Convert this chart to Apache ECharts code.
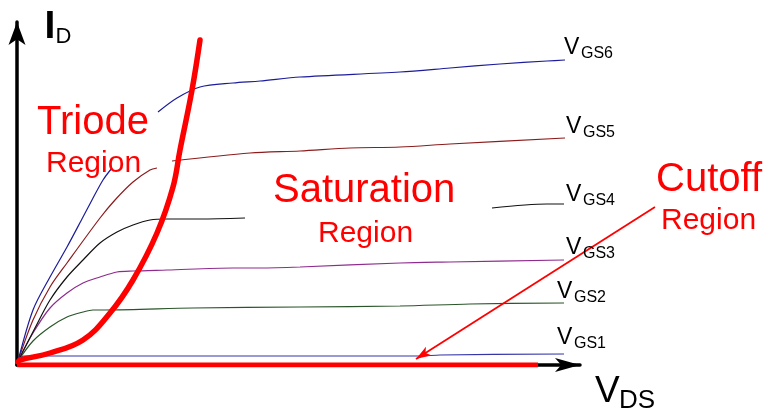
<!DOCTYPE html>
<html lang="en">
<head>
  <meta charset="UTF-8">
  <title>MOSFET regions</title>
  <script src="https://cdn.jsdelivr.net/npm/echarts@6/dist/echarts.min.js"></script>
  <style>
    html, body { margin: 0; padding: 0; background: #fff; }
  </style>
</head>
<body>
  <div id="app" style="width: 772px; height: 417px;"></div>
  <script>
    // output curves, one per gate voltage: [VDS, ID] in drawing units
    var vgs6 = [[1,4],[16,55],[33,88],[50,118],[66,148],[75,165],[86,185],[95,197],null,
      [141,253],[160,267],[183,278],[216,282],[243,284],[283,288],[383,293],[433,297],[483,301],[530,304],[548,305]]
    var vgs5 = [[1,4],[16,45],[33,78],[50,102],[83,147],[98,165],[116,183],[133,195],[140,197],null,
      [155,204],[233,212],[283,214],[333,217],[383,218],[433,221],[548,227]]
    var vgs4 = [[1,4],[18,37],[33,65],[50,88],[66,105],[83,122],[100,133],[116,140],[133,145],[150,146],[183,146],[228,147],null,
      [475,157],[530,161],[547,161]]
    var vgs3 = [[1,4],[16,32],[33,57],[50,72],[66,82],[83,88],[100,93],[116,94],[150,95],[216,97],[243,97],[283,98],[383,102],[433,103],[547,105]]
    var vgs2 = [[1,4],[16,24],[33,38],[50,48],[66,53],[76,55],[88,55],[176,57],[283,58],[383,59],[453,61],[547,62]]
    var vgs1 = [[1,4],[7,9],[403,9],[423,10],[547,11]]
    // triode / saturation boundary and cutoff line
    var triodeEdge = [[1,3],[3,5],[33,12],[66,25],[93,52],[116,85],[140,132],[156,178],[163,215],[175,275],[183,325]]
    var cutoffLine = [[0,0],[521,0]]
    var cutoffArrow = [[638,158],[399,6]]

    var curveNames = ['GS1', 'GS2', 'GS3', 'GS4', 'GS5', 'GS6']
    var curveData = [vgs1, vgs2, vgs3, vgs4, vgs5, vgs6]
    var curveColors = ['#3535a8', '#2a552a', '#8e2c8e', '#111111', '#8b1c1c', '#1c1c9a']

    var app = document.querySelector('#app')
    var mCharts = echarts.init(app)

    var font = '"Liberation Sans", Arial, sans-serif'

    function txt(x, y, text, size, color, weight) {
      return {
        type: 'text', x: x, y: y, z: 20,
        style: { text: text, fontSize: size, fontFamily: font, fontWeight: weight || 'normal', fill: color }
      }
    }

    // label with subscript, e.g. V + GS6
    function subLabel(x, capTop, main, sub, mainSize, subSize, dx, dy) {
      return [
        txt(x, capTop - 0.094 * mainSize, main, mainSize, '#000'),
        txt(x + dx, capTop + dy - 0.094 * subSize, sub, subSize, '#000')
      ]
    }

    var series = curveData.map(function (d, i) {
      return {
        name: 'V' + curveNames[i],
        type: 'line',
        data: d,
        showSymbol: false,
        smooth: 0.3,
        connectNulls: false,
        lineStyle: { width: 1.2, color: curveColors[i] },
        z: 3
      }
    })

    series.push({
      type: 'line',
      data: cutoffLine,
      showSymbol: false,
      lineStyle: { width: 5, color: '#ff0000', cap: 'butt' },
      z: 5
    })
    series.push({
      type: 'line',
      data: triodeEdge,
      showSymbol: false,
      smooth: 0.4,
      lineStyle: { width: 5.5, color: '#ff0000', cap: 'round' },
      z: 6
    })
    // the pointer runs past the plot's right edge, so it lives on a wider hidden grid
    series.push({
      type: 'line',
      xAxisIndex: 1,
      yAxisIndex: 1,
      data: [
        { value: cutoffArrow[0], symbol: 'none' },
        { value: cutoffArrow[1], symbol: 'arrow', symbolSize: [7.5, 15], symbolRotate: 122.5 }
      ],
      showSymbol: true,
      itemStyle: { color: '#ff0000' },
      lineStyle: { width: 1.8, color: '#ff0000' },
      z: 7
    })

    var labelTops = [328, 282, 238, 185, 117, 38]
    var labelLefts = [557, 557, 566, 566, 566, 564]

    var graphics = []
    curveNames.forEach(function (n, i) {
      graphics = graphics.concat(subLabel(labelLefts[i], labelTops[i], 'V', n, 23, 16, 17, 9))
    })
    graphics.push(txt(44.5, 11 - 0.094 * 39, 'I', 39, '#000', 'bold'))
    graphics.push(txt(55.5, 28 - 0.094 * 22, 'D', 22, '#000'))
    graphics = graphics.concat(subLabel(595, 377, 'V', 'DS', 37, 26, 24, 13))

    graphics.push(txt(37, 135 - 32.4, 'Triode', 40, '#ff0000'))
    graphics.push(txt(46, 173.5 - 24.3, 'Region', 30, '#ff0000'))
    graphics.push(txt(273, 203 - 32.4, 'Saturation', 40, '#ff0000'))
    graphics.push(txt(318, 243 - 24.3, 'Region', 30, '#ff0000'))
    graphics.push(txt(656, 192 - 32.4, 'Cutoff', 40, '#ff0000'))
    graphics.push(txt(661, 230 - 24.3, 'Region', 30, '#ff0000'))

    var hidden = {
      axisLine: { show: false }, axisTick: { show: false },
      axisLabel: { show: false }, splitLine: { show: false }
    }

    var option = {
      animation: false,
      backgroundColor: '#fff',
      grid: [
        { left: 17, right: 192, top: 22, bottom: 52, containLabel: false },
        { left: 17, right: 0, top: 22, bottom: 52, containLabel: false }
      ],
      xAxis: [
        {
          type: 'value', min: 0, max: 563,
          axisLine: { show: true, onZero: false, symbol: ['none', 'arrow'], symbolSize: [10.5, 25], lineStyle: { color: '#000', width: 3.5 } },
          axisTick: { show: false }, axisLabel: { show: false }, splitLine: { show: false }
        },
        Object.assign({ type: 'value', gridIndex: 1, min: 0, max: 755 }, hidden)
      ],
      yAxis: [
        {
          type: 'value', min: 0, max: 343,
          axisLine: { show: true, onZero: false, symbol: ['none', 'arrow'], symbolSize: [12.75, 23], lineStyle: { color: '#000', width: 3.5 } },
          axisTick: { show: false }, axisLabel: { show: false }, splitLine: { show: false }
        },
        Object.assign({ type: 'value', gridIndex: 1, min: 0, max: 343 }, hidden)
      ],
      graphic: graphics,
      series: series
    }
    mCharts.setOption(option)
  </script>
</body>
</html>
